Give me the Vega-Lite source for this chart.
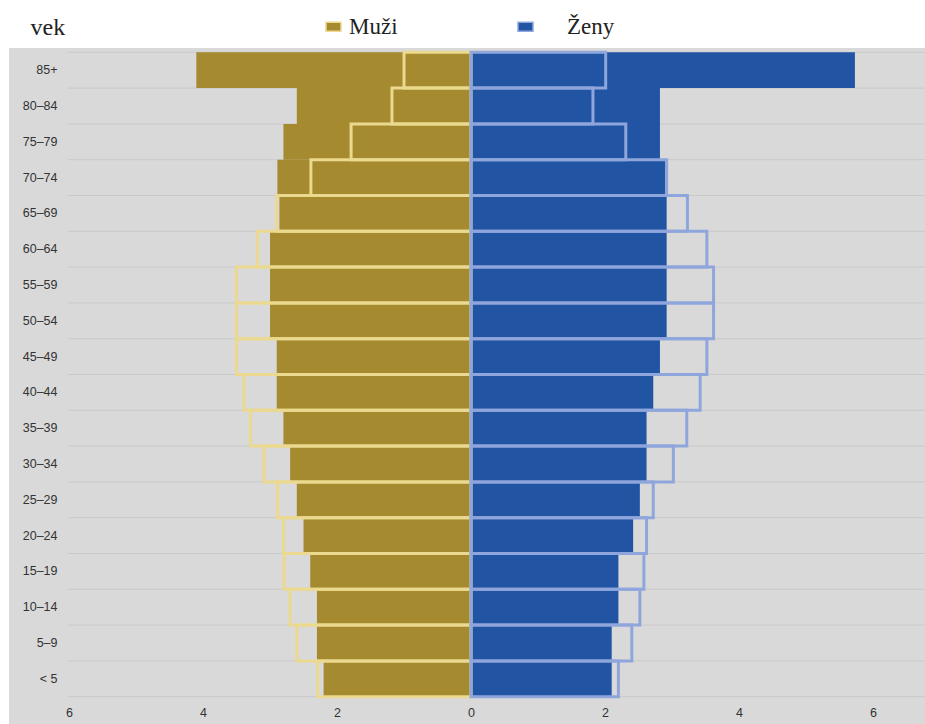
{
  "$schema": "https://vega.github.io/schema/vega-lite/v6.json",
  "width": 916,
  "height": 676,
  "autosize": {"type": "none"},
  "padding": {"left": 9, "top": 48, "right": 0, "bottom": 0},
  "background": "white",
  "config": {
    "view": {"fill": "#d9d9d9", "stroke": null},
    "axis": {"labelFont": "Liberation Sans", "labelFontSize": 12.5, "labelColor": "#333333"}
  },
  "data": {
    "values": [
      {"vek": "85+", "pohlavie": "Muži", "typ": "výplň", "hodnota": -4.1},
      {"vek": "80–84", "pohlavie": "Muži", "typ": "výplň", "hodnota": -2.6},
      {"vek": "75–79", "pohlavie": "Muži", "typ": "výplň", "hodnota": -2.8},
      {"vek": "70–74", "pohlavie": "Muži", "typ": "výplň", "hodnota": -2.89},
      {"vek": "65–69", "pohlavie": "Muži", "typ": "výplň", "hodnota": -2.86},
      {"vek": "60–64", "pohlavie": "Muži", "typ": "výplň", "hodnota": -3.0},
      {"vek": "55–59", "pohlavie": "Muži", "typ": "výplň", "hodnota": -3.0},
      {"vek": "50–54", "pohlavie": "Muži", "typ": "výplň", "hodnota": -3.0},
      {"vek": "45–49", "pohlavie": "Muži", "typ": "výplň", "hodnota": -2.9},
      {"vek": "40–44", "pohlavie": "Muži", "typ": "výplň", "hodnota": -2.9},
      {"vek": "35–39", "pohlavie": "Muži", "typ": "výplň", "hodnota": -2.8},
      {"vek": "30–34", "pohlavie": "Muži", "typ": "výplň", "hodnota": -2.7},
      {"vek": "25–29", "pohlavie": "Muži", "typ": "výplň", "hodnota": -2.6},
      {"vek": "20–24", "pohlavie": "Muži", "typ": "výplň", "hodnota": -2.5},
      {"vek": "15–19", "pohlavie": "Muži", "typ": "výplň", "hodnota": -2.4},
      {"vek": "10–14", "pohlavie": "Muži", "typ": "výplň", "hodnota": -2.3},
      {"vek": "5–9", "pohlavie": "Muži", "typ": "výplň", "hodnota": -2.3},
      {"vek": "< 5", "pohlavie": "Muži", "typ": "výplň", "hodnota": -2.2},
      {"vek": "85+", "pohlavie": "Ženy", "typ": "výplň", "hodnota": 5.73},
      {"vek": "80–84", "pohlavie": "Ženy", "typ": "výplň", "hodnota": 2.82},
      {"vek": "75–79", "pohlavie": "Ženy", "typ": "výplň", "hodnota": 2.82},
      {"vek": "70–74", "pohlavie": "Ženy", "typ": "výplň", "hodnota": 2.9},
      {"vek": "65–69", "pohlavie": "Ženy", "typ": "výplň", "hodnota": 2.92},
      {"vek": "60–64", "pohlavie": "Ženy", "typ": "výplň", "hodnota": 2.92},
      {"vek": "55–59", "pohlavie": "Ženy", "typ": "výplň", "hodnota": 2.92},
      {"vek": "50–54", "pohlavie": "Ženy", "typ": "výplň", "hodnota": 2.92},
      {"vek": "45–49", "pohlavie": "Ženy", "typ": "výplň", "hodnota": 2.82},
      {"vek": "40–44", "pohlavie": "Ženy", "typ": "výplň", "hodnota": 2.72},
      {"vek": "35–39", "pohlavie": "Ženy", "typ": "výplň", "hodnota": 2.62},
      {"vek": "30–34", "pohlavie": "Ženy", "typ": "výplň", "hodnota": 2.62},
      {"vek": "25–29", "pohlavie": "Ženy", "typ": "výplň", "hodnota": 2.52},
      {"vek": "20–24", "pohlavie": "Ženy", "typ": "výplň", "hodnota": 2.42},
      {"vek": "15–19", "pohlavie": "Ženy", "typ": "výplň", "hodnota": 2.2},
      {"vek": "10–14", "pohlavie": "Ženy", "typ": "výplň", "hodnota": 2.2},
      {"vek": "5–9", "pohlavie": "Ženy", "typ": "výplň", "hodnota": 2.1},
      {"vek": "< 5", "pohlavie": "Ženy", "typ": "výplň", "hodnota": 2.1},
      {"vek": "85+", "pohlavie": "Muži", "typ": "obrys", "hodnota": -1.0},
      {"vek": "80–84", "pohlavie": "Muži", "typ": "obrys", "hodnota": -1.18},
      {"vek": "75–79", "pohlavie": "Muži", "typ": "obrys", "hodnota": -1.79},
      {"vek": "70–74", "pohlavie": "Muži", "typ": "obrys", "hodnota": -2.39},
      {"vek": "65–69", "pohlavie": "Muži", "typ": "obrys", "hodnota": -2.9},
      {"vek": "60–64", "pohlavie": "Muži", "typ": "obrys", "hodnota": -3.19},
      {"vek": "55–59", "pohlavie": "Muži", "typ": "obrys", "hodnota": -3.5},
      {"vek": "50–54", "pohlavie": "Muži", "typ": "obrys", "hodnota": -3.5},
      {"vek": "45–49", "pohlavie": "Muži", "typ": "obrys", "hodnota": -3.5},
      {"vek": "40–44", "pohlavie": "Muži", "typ": "obrys", "hodnota": -3.39},
      {"vek": "35–39", "pohlavie": "Muži", "typ": "obrys", "hodnota": -3.29},
      {"vek": "30–34", "pohlavie": "Muži", "typ": "obrys", "hodnota": -3.09},
      {"vek": "25–29", "pohlavie": "Muži", "typ": "obrys", "hodnota": -2.89},
      {"vek": "20–24", "pohlavie": "Muži", "typ": "obrys", "hodnota": -2.8},
      {"vek": "15–19", "pohlavie": "Muži", "typ": "obrys", "hodnota": -2.79},
      {"vek": "10–14", "pohlavie": "Muži", "typ": "obrys", "hodnota": -2.7},
      {"vek": "5–9", "pohlavie": "Muži", "typ": "obrys", "hodnota": -2.6},
      {"vek": "< 5", "pohlavie": "Muži", "typ": "obrys", "hodnota": -2.29},
      {"vek": "85+", "pohlavie": "Ženy", "typ": "obrys", "hodnota": 2.01},
      {"vek": "80–84", "pohlavie": "Ženy", "typ": "obrys", "hodnota": 1.82},
      {"vek": "75–79", "pohlavie": "Ženy", "typ": "obrys", "hodnota": 2.31},
      {"vek": "70–74", "pohlavie": "Ženy", "typ": "obrys", "hodnota": 2.92},
      {"vek": "65–69", "pohlavie": "Ženy", "typ": "obrys", "hodnota": 3.23},
      {"vek": "60–64", "pohlavie": "Ženy", "typ": "obrys", "hodnota": 3.52},
      {"vek": "55–59", "pohlavie": "Ženy", "typ": "obrys", "hodnota": 3.62},
      {"vek": "50–54", "pohlavie": "Ženy", "typ": "obrys", "hodnota": 3.62},
      {"vek": "45–49", "pohlavie": "Ženy", "typ": "obrys", "hodnota": 3.52},
      {"vek": "40–44", "pohlavie": "Ženy", "typ": "obrys", "hodnota": 3.42},
      {"vek": "35–39", "pohlavie": "Ženy", "typ": "obrys", "hodnota": 3.22},
      {"vek": "30–34", "pohlavie": "Ženy", "typ": "obrys", "hodnota": 3.02},
      {"vek": "25–29", "pohlavie": "Ženy", "typ": "obrys", "hodnota": 2.72},
      {"vek": "20–24", "pohlavie": "Ženy", "typ": "obrys", "hodnota": 2.62},
      {"vek": "15–19", "pohlavie": "Ženy", "typ": "obrys", "hodnota": 2.58},
      {"vek": "10–14", "pohlavie": "Ženy", "typ": "obrys", "hodnota": 2.52},
      {"vek": "5–9", "pohlavie": "Ženy", "typ": "obrys", "hodnota": 2.4},
      {"vek": "< 5", "pohlavie": "Ženy", "typ": "obrys", "hodnota": 2.2}
    ]
  },
  "encoding": {
    "y": {
      "field": "vek",
      "type": "nominal",
      "scale": {
        "domain": ["85+", "80–84", "75–79", "70–74", "65–69", "60–64", "55–59", "50–54", "45–49", "40–44", "35–39", "30–34", "25–29", "20–24", "15–19", "10–14", "5–9", "< 5"],
        "range": [4.3, 648.7],
        "paddingInner": 0,
        "paddingOuter": 0
      },
      "axis": {
        "orient": "left",
        "offset": -48,
        "ticks": false,
        "tickSize": 0,
        "domain": false,
        "grid": false,
        "labelPadding": 0,
        "title": "vek",
        "titleAngle": 0,
        "titleAlign": "left",
        "titleBaseline": "alphabetic",
        "titleX": -27,
        "titleY": -14,
        "titleFont": "Liberation Serif",
        "titleFontSize": 24,
        "titleFontWeight": "normal",
        "titleColor": "#222222"
      }
    }
  },
  "layer": [
    {
      "transform": [{"filter": "datum.typ == 'výplň' && datum.pohlavie == 'Muži'"}],
      "mark": {"type": "rule", "color": "#c9c9c9", "strokeWidth": 1},
      "encoding": {
        "y": {"field": "vek", "type": "nominal", "bandPosition": 0},
        "x": {"datum": -6.015},
        "x2": {"datum": 6.776}
      }
    },
    {
      "transform": [{"filter": "datum.typ == 'výplň' && datum.pohlavie == 'Muži' && datum.vek == '< 5'"}],
      "mark": {"type": "rule", "color": "#c9c9c9", "strokeWidth": 1},
      "encoding": {
        "y": {"field": "vek", "type": "nominal", "bandPosition": 1},
        "x": {"datum": -6.015},
        "x2": {"datum": 6.776}
      }
    },
    {
      "transform": [{"filter": "datum.typ == 'výplň'"}],
      "mark": {"type": "bar"},
      "encoding": {
        "x": {
          "field": "hodnota",
          "type": "quantitative",
          "scale": {"domain": [-6.896, 6.776], "nice": false, "zero": false},
          "axis": {
            "orient": "bottom",
            "offset": -18,
            "values": [-6, -4, -2, 0, 2, 4, 6],
            "labelExpr": "abs(datum.value)",
            "ticks": false,
            "tickSize": 0,
            "domain": false,
            "grid": false,
            "labelPadding": 0,
            "title": null
          }
        },
        "x2": {"datum": 0},
        "color": {
          "field": "pohlavie",
          "type": "nominal",
          "scale": {"domain": ["Muži", "Ženy"], "range": ["#a68a2f", "#2254a4"]},
          "legend": {
            "orient": "none",
            "legendX": 313,
            "legendY": -33,
            "direction": "horizontal",
            "title": null,
            "padding": 0,
            "symbolType": "M-1,-0.6H1V0.6H-1Z",
            "symbolSize": 225,
            "symbolStrokeColor": "#111111",
            "symbolStrokeWidth": 1.5,
            "symbolOpacity": 1,
            "labelFont": "Liberation Serif",
            "labelFontSize": 23,
            "labelColor": "#222222",
            "labelOffset": 4,
            "columnPadding": 116,
            "encode": {
              "symbols": {"update": {"stroke": {"value": "#111111"}, "strokeWidth": {"value": 1.5}}},
              "labels": {"update": {"dx": {"signal": "datum.label == 'Ženy' ? 26 : 0"}}}
            }
          }
        }
      }
    },
    {
      "transform": [{"filter": "datum.typ == 'obrys'"}],
      "mark": {"type": "bar", "filled": false, "strokeWidth": 3},
      "encoding": {
        "x": {"field": "hodnota", "type": "quantitative"},
        "x2": {"datum": 0},
        "stroke": {
          "field": "pohlavie",
          "type": "nominal",
          "scale": {"domain": ["Muži", "Ženy"], "range": ["#ebd98f", "#8fa6dc"]},
          "legend": null
        }
      }
    }
  ]
}
